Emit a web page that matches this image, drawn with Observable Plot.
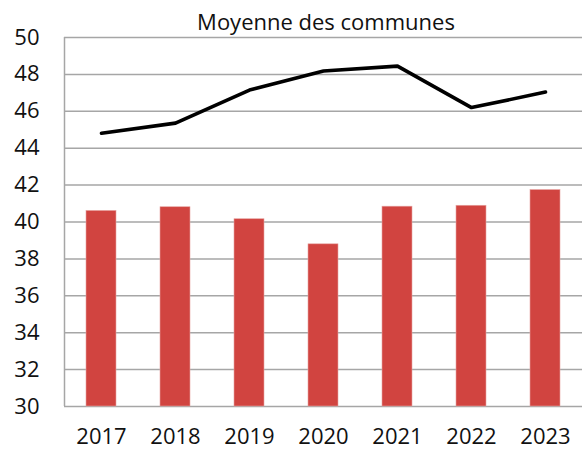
<!DOCTYPE html>
<html>
<head>
<meta charset="utf-8">
<script src="https://cdn.jsdelivr.net/npm/d3@7"></script>
<script src="https://cdn.jsdelivr.net/npm/@observablehq/plot@0.6"></script>
<style>
  body { margin: 0; background: #fff; }
  #wrap { position: relative; width: 582px; height: 450px; overflow: hidden; font-family: "Open Sans", "Noto Sans", sans-serif; }
  #sub { position: absolute; left: 70px; right: 0; top: 6px; text-align: center; font-size: 22px; color: #111; line-height: 30px; }
  svg { display: block; }
</style>
</head>
<body>
<div id="wrap"><div id="sub">Moyenne des communes</div></div>
<script>
const years = ["2017", "2018", "2019", "2020", "2021", "2022", "2023"];
const barValues = [40.60, 40.80, 40.15, 38.79, 40.83, 40.88, 41.73];
const lineValues = [44.81, 45.36, 47.15, 48.18, 48.45, 46.20, 47.04];
const yTicks = [30, 32, 34, 36, 38, 40, 42, 44, 46, 48, 50];

const data = years.map((y, i) => ({year: y, bar: barValues[i], line: lineValues[i]}));

const chart = Plot.plot({
  width: 582,
  height: 450,
  marginTop: 37,
  marginBottom: 44,
  marginLeft: 64,
  marginRight: 0,
  style: {fontFamily: '"Open Sans", "Noto Sans", sans-serif', fontSize: "22px", color: "#111", background: "transparent"},
  x: {domain: years, paddingInner: 0.6, paddingOuter: 0.3, tickSize: 0, tickPadding: 22, label: null},
  y: {domain: [30, 50], ticks: yTicks, tickSize: 0, tickPadding: 25, label: null},
  marks: [
    Plot.ruleY(yTicks, {stroke: "#a6a6a6", strokeWidth: 1.5}),
    Plot.barY(data, {x: "year", y1: 30, y2: "bar", fill: "#d14440", stroke: "#e6a3a1", strokeWidth: 0.6}),
    Plot.lineY(data, {x: "year", y: "line", stroke: "#000", strokeWidth: 3.6, strokeLinejoin: "miter"})
  ]
});
document.getElementById("wrap").appendChild(chart);

const xs = chart.scale("x"), ys = chart.scale("y");
d3.select(chart).append("line")
  .attr("x1", xs.range[0] + 0.5).attr("x2", xs.range[0] + 0.5)
  .attr("y1", ys.apply(50)).attr("y2", ys.apply(30))
  .attr("stroke", "#a6a6a6").attr("stroke-width", 1.5);
</script>
</body>
</html>
